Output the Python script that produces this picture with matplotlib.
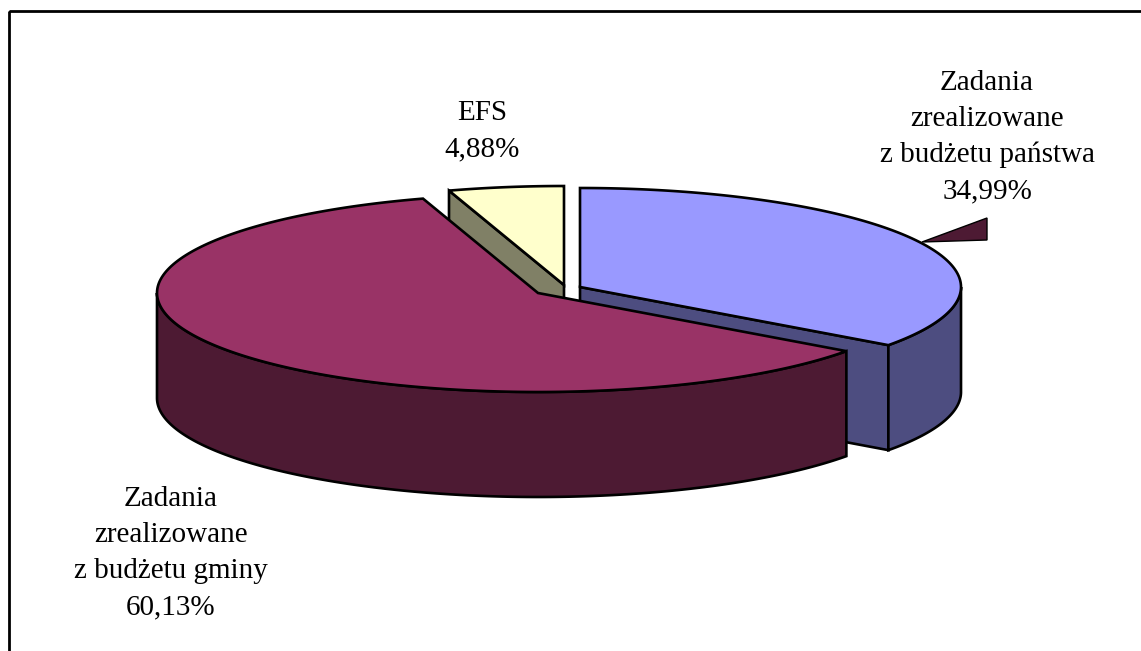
import numpy as np
import matplotlib.pyplot as plt
from matplotlib.patches import Polygon

# dane wykresu
kategorie = ["Zadania\nzrealizowane\nz budżetu państwa", "Zadania\nzrealizowane\nz budżetu gminy", "EFS"]
udzialy = [34.99, 60.13, 4.88]
etykiety_proc = ["34,99%", "60,13%", "4,88%"]

kolory_gora = ["#9999FF", "#993366", "#FFFFCC"]
kolory_bok = ["#4D4D80", "#4D1A33", "#808066"]

# geometria (piksele)
W, H = 1141, 651
cx, cy = 558, 290
rx, ry = 381, 99
glebokosc = 105
przesuniecia = [(22, -3), (-20, 3), (6, -5)]
poz_etykiet = [(987, 137), (171, 553), (482, 131)]

fig = plt.figure(figsize=(W / 100, H / 100), dpi=100)
ax = fig.add_axes([0, 0, 1, 1])
ax.set_xlim(0, W)
ax.set_ylim(H, 0)
ax.axis("off")

# ramka
ax.add_patch(Polygon([(9, 11), (1200, 11), (1200, 700), (9, 700)], closed=True,
                     fill=False, edgecolor="black", linewidth=2, zorder=0))


def punkt(t, x0, y0):
    return x0 + rx * np.sin(t), y0 - ry * np.cos(t)


# kąty wycinków (od godziny 12, zgodnie z ruchem wskazówek)
suma = sum(udzialy)
granice = np.concatenate([[0], np.cumsum(udzialy)]) / suma * 2 * np.pi
srodki = [(cx + dx, cy + dy) for dx, dy in przesuniecia]

lw = 1.9

for i in range(len(udzialy)):
    t1, t2 = granice[i], granice[i + 1]
    x0, y0 = srodki[i]

    # górna powierzchnia
    ts = np.linspace(t1, t2, 200)
    xs, ys = punkt(ts, x0, y0)
    gora = [(x0, y0)] + list(zip(xs, ys))
    ax.add_patch(Polygon(gora, closed=True, facecolor=kolory_gora[i],
                         edgecolor="black", linewidth=lw, zorder=10))

    # ściana zewnętrzna (tylko przednia część)
    a, b = max(t1, np.pi / 2), min(t2, 3 * np.pi / 2)
    if a < b:
        ts = np.linspace(a, b, 200)
        xs, ys = punkt(ts, x0, y0)
        sciana = list(zip(xs, ys)) + list(zip(xs[::-1], ys[::-1] + glebokosc))
        ax.add_patch(Polygon(sciana, closed=True, facecolor=kolory_bok[i],
                             edgecolor="black", linewidth=lw, zorder=5))

    # ściany promieniowe widoczne od przodu
    for t, znak in ((t1, -1), (t2, 1)):
        kier = t + znak * np.pi / 2
        if -np.cos(kier) > 0.05:
            px, py = punkt(t, x0, y0)
            sc = [(x0, y0), (px, py), (px, py + glebokosc), (x0, y0 + glebokosc)]
            ax.add_patch(Polygon(sc, closed=True, facecolor=kolory_bok[i],
                                 edgecolor="black", linewidth=lw,
                                 zorder=3 if i == 0 else 6))

# etykiety
for i in range(len(udzialy)):
    tekst = kategorie[i] + "\n" + etykiety_proc[i]
    x, y = poz_etykiet[i]
    ax.text(x, y, tekst, ha="center", va="center", family="Liberation Serif",
            fontsize=21, linespacing=1.5, zorder=20)

# znacznik linii odniesienia przy etykiecie budżetu państwa
lx, ly = poz_etykiet[0]
ax.add_patch(Polygon([(lx - 65, ly + 105), (lx, ly + 81), (lx, ly + 103)], closed=True,
                     facecolor="#4D1A33", edgecolor="black", linewidth=1, zorder=4))

fig.savefig("out.png", dpi=100)
